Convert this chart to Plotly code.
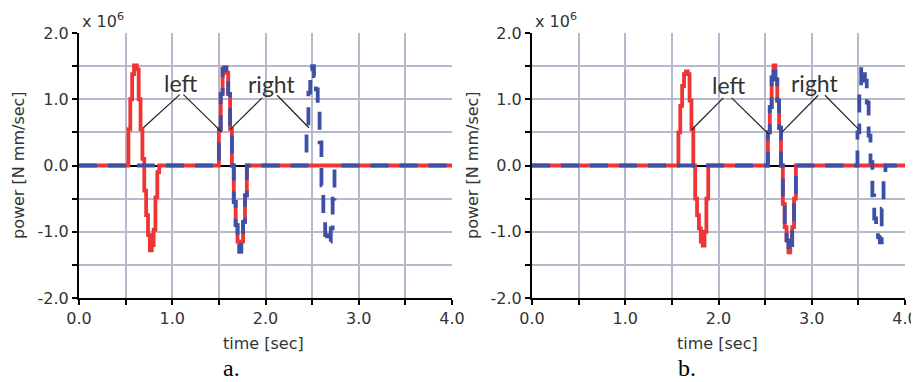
import plotly.graph_objects as go

# page is offset by the default 8px body margin, so the figure is 8px smaller
OFF = 8
W, H = 919 - OFF, 382 - OFF

# ---- data (values in units of 1e6 N mm/sec) ----
a_left_t = [0.0, 0.53, 0.55, 0.57, 0.59, 0.62, 0.64, 0.66, 0.68, 0.70, 0.72, 0.74, 0.76, 0.78,
            0.80, 0.82, 0.84, 0.86,
            1.50, 1.52, 1.54, 1.56, 1.58, 1.60, 1.62, 1.64, 1.66, 1.68, 1.70, 1.72, 1.74, 1.76,
            1.78, 1.80, 4.0]
a_left_v = [0.0, 0.55, 1.0, 1.38, 1.51, 1.45, 1.0, 0.55, 0.1, -0.38, -0.75, -1.05, -1.28, -1.2,
            -0.97, -0.48, -0.1, 0.0,
            0.55, 1.08, 1.46, 1.48, 1.40, 1.08, 0.55, 0.0, -0.55, -0.9, -1.15, -1.3, -1.15, -0.85,
            -0.45, 0.0, 0.0]

a_right_t = [0.0,
             1.50, 1.52, 1.54, 1.56, 1.58, 1.60, 1.62, 1.64, 1.66, 1.68, 1.70, 1.72, 1.74, 1.76,
             1.78, 1.80,
             2.44, 2.46, 2.48, 2.50, 2.52, 2.54, 2.56, 2.58, 2.60, 2.62, 2.64, 2.66, 2.68, 2.70,
             2.72, 2.74, 4.0]
a_right_v = [0.0,
             0.55, 1.08, 1.46, 1.48, 1.40, 1.08, 0.55, 0.0, -0.55, -0.9, -1.15, -1.3, -1.15, -0.85,
             -0.45, 0.0,
             0.5, 1.1, 1.45, 1.5, 1.35, 1.15, 0.85, 0.35, -0.3, -0.75, -1.05, -1.18, -1.15, -0.95,
             -0.5, 0.0, 0.0]

b_left_t = [0.0,
            1.57, 1.59, 1.61, 1.63, 1.65, 1.67, 1.69, 1.71, 1.73, 1.75, 1.77, 1.79, 1.81, 1.83,
            1.85, 1.87, 1.89,
            2.53, 2.55, 2.57, 2.59, 2.61, 2.63, 2.65, 2.67, 2.69, 2.71, 2.73, 2.75, 2.77, 2.79,
            2.81, 2.83, 4.0]
b_left_v = [0.0,
            0.5, 0.9, 1.2, 1.38, 1.42, 1.38, 0.98, 0.55, 0.0, -0.5, -0.75, -0.95, -1.15, -1.21,
            -1.0, -0.5, 0.0,
            0.5, 0.88, 1.33, 1.51, 1.3, 0.98, 0.57, 0.0, -0.58, -0.93, -1.13, -1.31, -1.2, -0.93,
            -0.5, 0.0, 0.0]

b_right_t = [0.0,
             2.53, 2.55, 2.57, 2.59, 2.61, 2.63, 2.65, 2.67, 2.69, 2.71, 2.73, 2.75, 2.77, 2.79,
             2.81, 2.83,
             3.49, 3.51, 3.53, 3.55, 3.57, 3.59, 3.61, 3.63, 3.65, 3.67, 3.69, 3.71, 3.73, 3.75,
             3.77, 3.79, 4.0]
b_right_v = [0.0,
             0.5, 0.88, 1.33, 1.51, 1.3, 0.98, 0.57, 0.0, -0.58, -0.93, -1.13, -1.31, -1.2, -0.93,
             -0.5, 0.0,
             0.5, 1.1, 1.5, 1.45, 1.28, 0.95, 0.45, 0.05, -0.45, -0.8, -0.95, -1.08, -1.16, -0.65,
             -0.2, 0.0, 0.0]

x_tickvals = [0.0, 0.5, 1.0, 1.5, 2.0, 2.5, 3.0, 3.5, 4.0]
x_ticktext = ["0.0", "", "1.0", "", "2.0", "", "3.0", "", "4.0"]
y_tickvals = [-2.0, -1.5, -1.0, -0.5, 0.0, 0.5, 1.0, 1.5, 2.0]
y_ticktext = ["-2.0", "", "-1.0", "", "0.0", "", "1.0", "", "2.0"]

# annotation label anchors: (text, t, v) and pointer segments (t0, v0, t1, v1)
a_labels = [("left", 1.09, 1.24), ("right", 2.07, 1.23)]
a_pointers = [(1.08, 1.07, 0.69, 0.57), (1.12, 1.07, 1.534, 0.50),
              (1.964, 1.02, 1.624, 0.55), (2.125, 1.06, 2.466, 0.57)]
b_labels = [("left", 2.105, 1.21), ("right", 3.035, 1.24)]
b_pointers = [(2.052, 1.02, 1.712, 0.54), (2.141, 1.02, 2.54, 0.47),
              (3.07, 1.06, 2.678, 0.50), (3.142, 1.06, 3.50, 0.55)]

RED = "#ef3434"
BLUE = "#3d50a6"
GRID = "#b6b9cb"
TXT = "#333333"
FONT = "DejaVu Sans"

fig = go.Figure()
for xa, ya, lt, lv, rt, rv in [("x", "y", a_left_t, a_left_v, a_right_t, a_right_v),
                               ("x2", "y2", b_left_t, b_left_v, b_right_t, b_right_v)]:
    fig.add_trace(go.Scatter(x=lt, y=lv, mode="lines", line=dict(color=RED, width=3.8, shape="hv"),
                             xaxis=xa, yaxis=ya, showlegend=False, hoverinfo="skip"))
    fig.add_trace(go.Scatter(x=rt, y=rv, mode="lines",
                             line=dict(color=BLUE, width=3.8, shape="hv", dash="18px,11px"),
                             xaxis=xa, yaxis=ya, showlegend=False, hoverinfo="skip"))

def px(x):
    return (x - OFF) / W

def py(y):
    return 1 - (y - OFF) / H

xax = dict(range=[0, 4], tickvals=x_tickvals, ticktext=x_ticktext, showgrid=True,
           gridcolor=GRID, gridwidth=2, showline=True, linecolor="black", linewidth=2,
           ticks="outside", ticklen=5, tickwidth=1.5, tickcolor="black", zeroline=False,
           automargin=False,
           tickfont=dict(family=FONT, size=16, color=TXT), fixedrange=True)
yax = dict(range=[-2, 2], tickvals=y_tickvals, ticktext=y_ticktext, showgrid=True,
           gridcolor=GRID, gridwidth=2, showline=True, linecolor="black", linewidth=2,
           ticks="outside", ticklen=5, tickwidth=1.5, tickcolor="black", zeroline=True,
           zerolinecolor="black", zerolinewidth=2, automargin=False,
           tickfont=dict(family=FONT, size=16, color=TXT), fixedrange=True)

ydom = [py(298), py(33)]
fig.update_layout(
    width=W, height=H, autosize=False, margin=dict(l=0, r=0, t=0, b=0, pad=0),
    paper_bgcolor="white", plot_bgcolor="white",
    xaxis=dict(xax, domain=[px(79), px(452)], anchor="y"),
    yaxis=dict(yax, domain=ydom, anchor="x"),
    xaxis2=dict(xax, domain=[px(532), px(905)], anchor="y2"),
    yaxis2=dict(yax, domain=ydom, anchor="x2"),
)

shapes = []
annos = []
for xr, yr, labels, pointers in [("x", "y", a_labels, a_pointers), ("x2", "y2", b_labels, b_pointers)]:
    for (t0, v0, t1, v1) in pointers:
        shapes.append(dict(type="line", xref=xr, yref=yr, x0=t0, y0=v0, x1=t1, y1=v1,
                           line=dict(color="#222222", width=1.2)))
    for (txt, t, v) in labels:
        annos.append(dict(text=txt, xref=xr, yref=yr, x=t, y=v, showarrow=False,
                          xanchor="center", yanchor="middle",
                          font=dict(family="Lato", size=23, color=TXT)))

# multiplier, axis titles, captions
for cx in (80, 533):
    annos.append(dict(text="x 10<sup>6</sup>", xref="paper", yref="paper", x=px(cx), y=py(8),
                      xanchor="left", yanchor="top", showarrow=False,
                      font=dict(family=FONT, size=16, color=TXT)))
for cx in (18, 472):
    annos.append(dict(text="power [N mm/sec]", xref="paper", yref="paper", x=px(cx), y=py(165),
                      xanchor="center", yanchor="middle",
                      textangle=-90, showarrow=False, font=dict(family=FONT, size=16, color=TXT)))
for cx in (263, 717):
    annos.append(dict(text="time [sec]", xref="paper", yref="paper", x=px(cx), y=py(343),
                      xanchor="center", yanchor="middle",
                      showarrow=False, font=dict(family=FONT, size=16, color=TXT)))
for cx, cap in ((231, "a."), (687, "b.")):
    annos.append(dict(text=cap, xref="paper", yref="paper", x=px(cx), y=py(368),
                      xanchor="center", yanchor="middle",
                      showarrow=False, font=dict(family="Liberation Serif", size=24, color="black")))

fig.update_layout(shapes=shapes, annotations=annos)
fig.write_html("out.html")
